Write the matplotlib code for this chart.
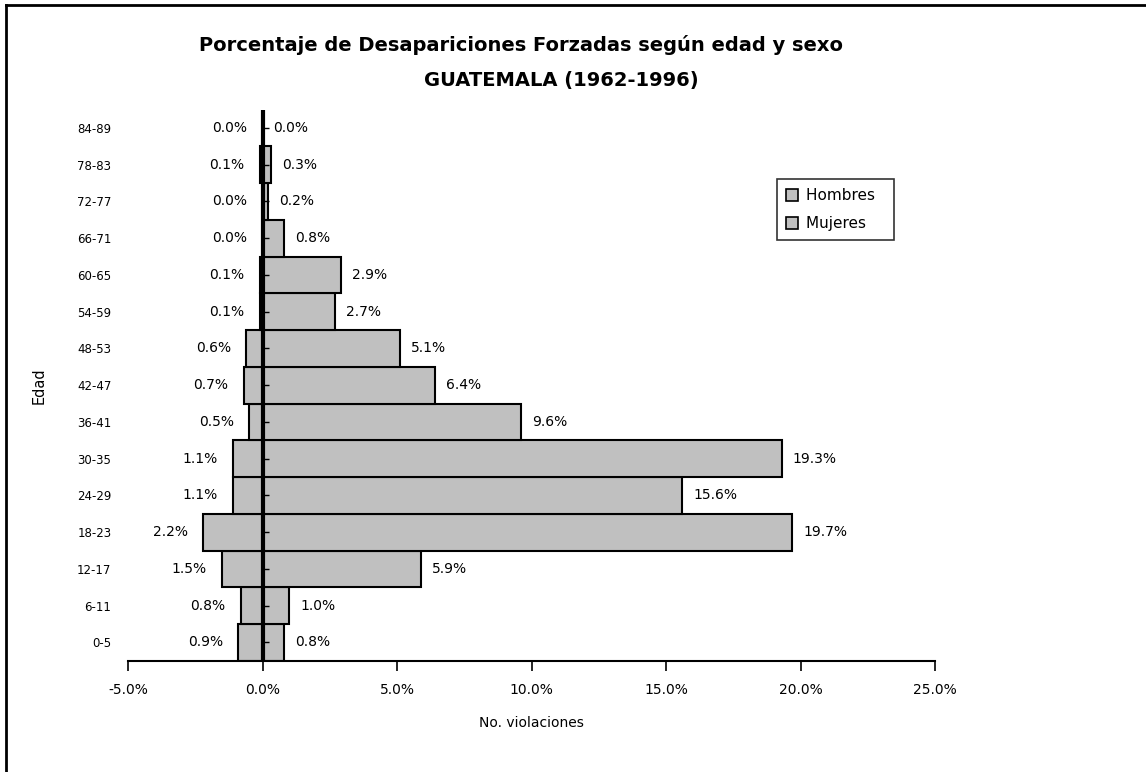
import matplotlib.pyplot as plt
from matplotlib.lines import Line2D
from matplotlib.patches import Patch

edades = ["0-5", "6-11", "12-17", "18-23", "24-29", "30-35", "36-41", "42-47",
          "48-53", "54-59", "60-65", "66-71", "72-77", "78-83", "84-89"]
hombres = [0.8, 1.0, 5.9, 19.7, 15.6, 19.3, 9.6, 6.4, 5.1, 2.7, 2.9, 0.8, 0.2, 0.3, 0.0]
mujeres = [0.9, 0.8, 1.5, 2.2, 1.1, 1.1, 0.5, 0.7, 0.6, 0.1, 0.1, 0.0, 0.0, 0.1, 0.0]
xticks = [-5, 0, 5, 10, 15, 20, 25]

gris = "#c0c0c0"

fig = plt.figure(figsize=(11.46, 7.72), dpi=100)
ax = fig.add_axes([0.1117, 0.144, 0.7042, 0.714])

pos = list(range(len(edades)))
ax.barh(pos, hombres, height=1.0, color=gris, edgecolor="black", linewidth=1.5)
ax.barh(pos, [-m for m in mujeres], height=1.0, color=gris, edgecolor="black", linewidth=1.5)

# eje central en cero con sus marcas
ax.axvline(0, color="black", linewidth=3, zorder=5)
ax.plot([0.12] * len(pos), pos, linestyle="none", marker="_", markersize=4,
        color="black", zorder=6)

for i in pos:
    ax.annotate(f"{hombres[i]:.1f}%", (hombres[i], i), xytext=(8, 0),
                textcoords="offset points", ha="left", va="center", fontsize=10)
    ax.annotate(f"{mujeres[i]:.1f}%", (-mujeres[i], i), xytext=(-11, 0),
                textcoords="offset points", ha="right", va="center", fontsize=10)

ax.set_xlim(-5, 25)
ax.set_ylim(-0.5, len(edades) - 0.5)
ax.set_xticks(xticks)
ax.set_xticklabels([f"{v:.1f}%" for v in xticks], fontsize=10)
ax.set_yticks(pos)
ax.set_yticklabels(edades, fontsize=8.5)
ax.tick_params(axis="y", length=0, pad=12)
ax.tick_params(axis="x", length=7, width=1.2, pad=9)

for s in ["top", "right", "left"]:
    ax.spines[s].set_visible(False)
ax.spines["bottom"].set_linewidth(1.5)

ax.set_xlabel("No. violaciones", fontsize=10, labelpad=14)
ax.set_ylabel("Edad", fontsize=10.5, labelpad=22)

fig.text(0.455, 0.942, "Porcentaje de Desapariciones Forzadas según edad y sexo",
         ha="center", va="center", fontsize=14, fontweight="bold")
fig.text(0.49, 0.896, "GUATEMALA (1962-1996)",
         ha="center", va="center", fontsize=14, fontweight="bold")

handles = [Patch(facecolor=gris, edgecolor="black", linewidth=1.2),
           Patch(facecolor=gris, edgecolor="black", linewidth=1.2)]
leg = fig.legend(handles, ["Hombres  ", "Mujeres  "], loc="upper left",
                 bbox_to_anchor=(0.678, 0.768), bbox_transform=fig.transFigure,
                 fontsize=11, fancybox=False, handlelength=0.8, handleheight=0.8,
                 handletextpad=0.5, borderpad=0.6, labelspacing=0.85, borderaxespad=0)
leg.get_frame().set_edgecolor("black")
leg.get_frame().set_linewidth(1.2)

# marco exterior del grafico
fig.add_artist(Line2D([0.005, 1.0], [0.9935, 0.9935], color="black", linewidth=2))
fig.add_artist(Line2D([0.0055, 0.0055], [0.0, 0.9935], color="black", linewidth=2))

fig.savefig("out.png", dpi=100)
